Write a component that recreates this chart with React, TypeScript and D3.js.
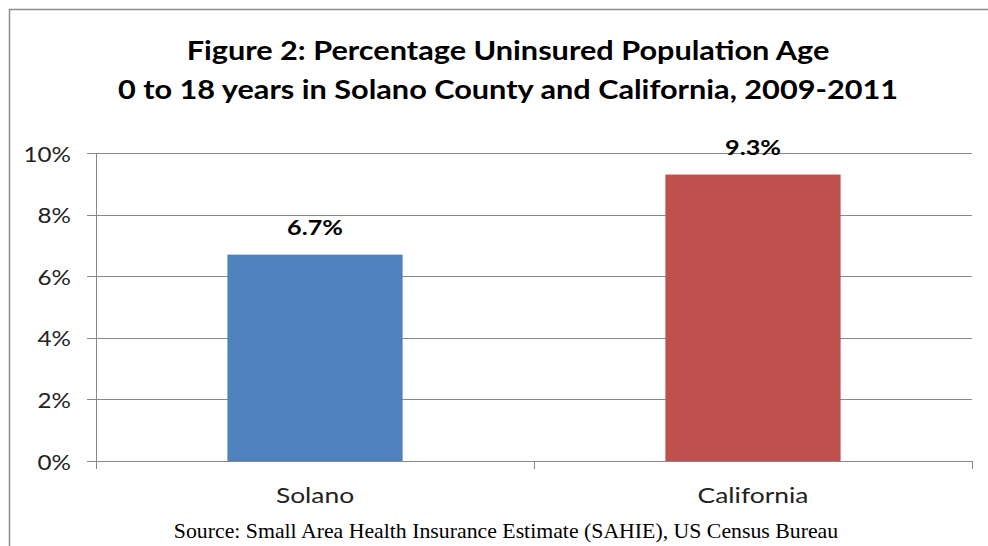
import React from "react";
import * as d3 from "d3";

const categories = ["Solano", "California"];
const values = [6.7, 9.3];
const valueLabels = ["6.7%", "9.3%"];
const yTicks = [0, 2, 4, 6, 8, 10];
const barColors = ["#4F81BD", "#C0504D"];
const titleLines = [
  "Figure 2: Percentage Uninsured Population Age",
  "0 to 18 years in Solano County and California,  2009-2011",
];
const sourceText = "Source: Small Area Health Insurance Estimate (SAHIE), US Census Bureau";

function SText(props: {
  x: number; y: number; sx: number; anchor: string; family: string; size: number; weight?: string; fill: string; children: React.ReactNode;
}) {
  return (
    <text
      transform={`translate(${props.x},${props.y}) scale(${props.sx},1)`}
      textAnchor={props.anchor}
      fontFamily={props.family}
      fontSize={props.size}
      fontWeight={props.weight || "normal"}
      fill={props.fill}
    >
      {props.children}
    </text>
  );
}

export default function App() {
  const W = 988, H = 546;
  const left = 96, right = 972, top = 153, bottom = 461;
  const x = d3.scaleBand<string>().domain(categories).range([left, right]).paddingInner(0.6).paddingOuter(0.3);
  const y = d3.scaleLinear().domain([0, 10]).range([bottom, top]);
  const font = "Lato, 'Open Sans', sans-serif";
  const grid = "#878787";
  return (
    <svg width={W} height={H} style={{ position: "absolute", left: 0, top: 0, background: "#fff" }}>
      <rect x={9.5} y={9.5} width={1000} height={600} fill="#fff" stroke="#8c8c8c" strokeWidth={1.5} />
      {titleLines.map((t, i) => (
        <SText key={i} x={508} y={60 + i * 39} sx={1.18} anchor="middle" family={font} weight="bold" size={26} fill="#000">
          {t}
        </SText>
      ))}
      {yTicks.map((t) => (
        <g key={t}>
          <line x1={87} x2={right} y1={Math.round(y(t)) + 0.5} y2={Math.round(y(t)) + 0.5} stroke={grid} strokeWidth={1} />
          <SText x={71} y={y(t) + 8.5} sx={1.1} anchor="end" family={font} size={22} fill="#222">
            {t}%
          </SText>
        </g>
      ))}
      <line x1={96.5} x2={96.5} y1={top} y2={bottom + 8} stroke={grid} />
      <line x1={right + 0.5} x2={right + 0.5} y1={bottom} y2={bottom + 8} stroke={grid} />
      <line x1={(left + right) / 2 + 0.5} x2={(left + right) / 2 + 0.5} y1={bottom} y2={bottom + 8} stroke={grid} />
      {categories.map((c, i) => (
        <g key={c}>
          <rect x={x(c)} y={y(values[i])} width={x.bandwidth()} height={bottom - y(values[i])} fill={barColors[i]} />
          <SText x={x(c)! + x.bandwidth() / 2} y={y(values[i]) - 20} sx={1.2} anchor="middle" family={font} weight="bold" size={21} fill="#000">
            {valueLabels[i]}
          </SText>
          <SText x={x(c)! + x.bandwidth() / 2} y={503} sx={1.2} anchor="middle" family={font} size={22} fill="#222">
            {c}
          </SText>
        </g>
      ))}
      <SText x={506} y={538} sx={1.09} anchor="middle" family="'Liberation Serif', 'Times New Roman', serif" size={20} fill="#000">
        {sourceText}
      </SText>
    </svg>
  );
}
